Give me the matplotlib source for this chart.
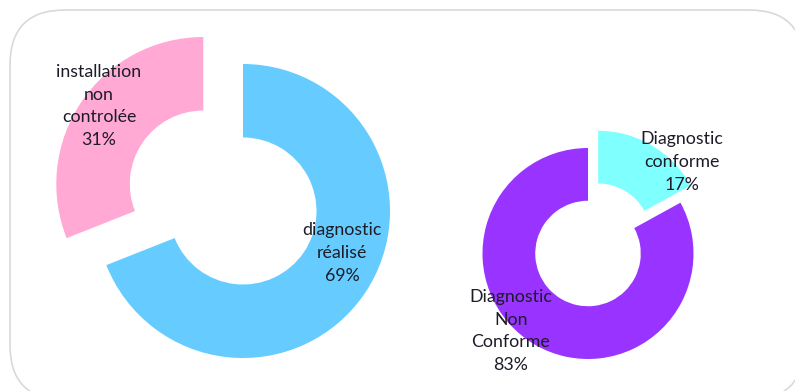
import matplotlib.pyplot as plt
from matplotlib.patches import FancyBboxPatch

# Data
left_labels = ["diagnostic\nréalisé", "installation\nnon\ncontrolée"]
left_values = [69, 31]
left_colors = ["#66CCFF", "#FFA9D4"]

right_labels = ["Diagnostic\nconforme", "Diagnostic\nNon\nConforme"]
right_values = [17, 83]
right_colors = ["#80FFFF", "#9933FF"]

plt.rcParams['font.family'] = ['Lato', 'DejaVu Sans']

W, H = 795, 391
fig = plt.figure(figsize=(W / 100, H / 100), dpi=100)
ax = fig.add_axes([0, 0, 1, 1])

# rounded frame around the whole chart
frame = FancyBboxPatch((10, -9), 794, 390, boxstyle="round,pad=0,rounding_size=55",
                       facecolor="white", edgecolor="#d9d9d9", lw=1.2, clip_on=False)
ax.add_patch(frame)

# left donut (pixel-like coordinates, y upwards)
R1 = 147
ax.pie(left_values, colors=left_colors, startangle=90, counterclock=False,
       center=(243, H - 211), radius=R1, explode=[0, 48],
       wedgeprops=dict(width=R1 * 0.5, linewidth=0), frame=True)

# right donut
R2 = 105.5
ax.pie(right_values, colors=right_colors, startangle=90, counterclock=False,
       center=(588, H - 253.5), radius=R2, explode=[20, 0],
       wedgeprops=dict(width=R2 * 0.5, linewidth=0), frame=True)

# data labels
txt = dict(ha="center", va="center", fontsize=12.8, color="#1c1c28", linespacing=1.52)
ax.text(342, H - 253, f"{left_labels[0]}\n{left_values[0]}%", **txt)
ax.text(99, H - 106, f"{left_labels[1]}\n{left_values[1]}%", **txt)
ax.text(682, H - 162, f"{right_labels[0]}\n{right_values[0]}%", **txt)
ax.text(511, H - 331, f"{right_labels[1]}\n{right_values[1]}%", **txt)

ax.set_xlim(0, W)
ax.set_ylim(0, H)
ax.set_aspect("equal")
ax.axis("off")

fig.savefig("out.png", dpi=100)
